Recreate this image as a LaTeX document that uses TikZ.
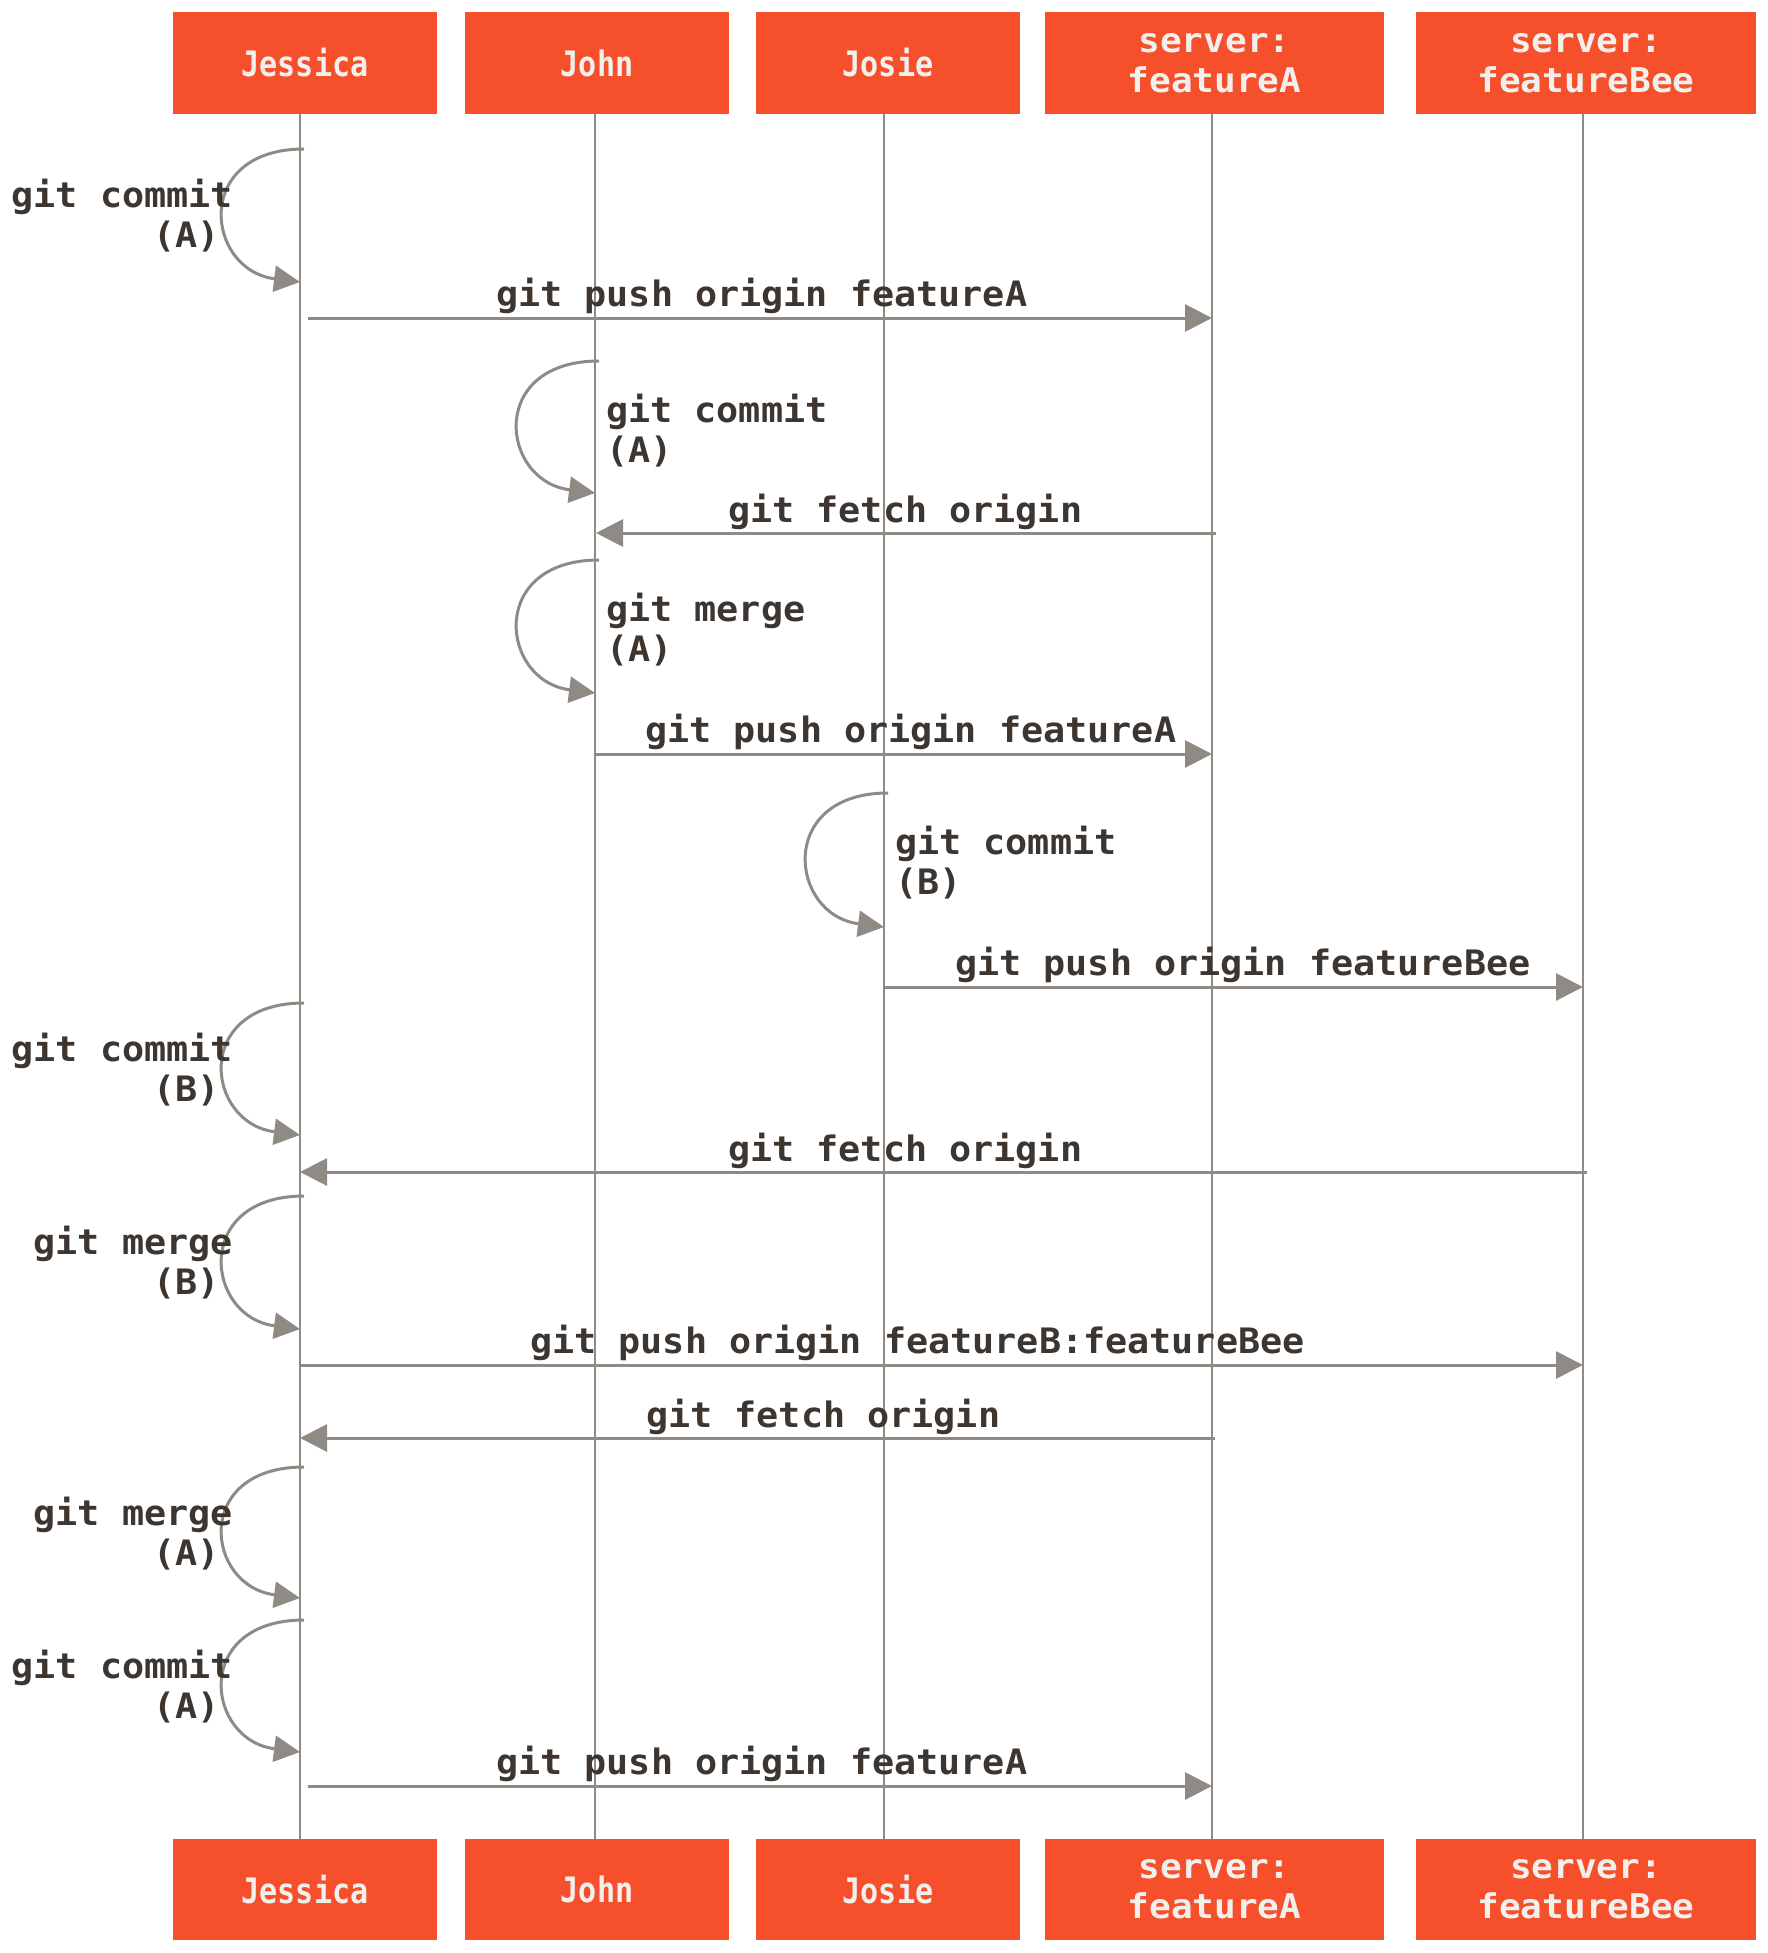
\documentclass[tikz,border=0pt]{standalone}
\usepackage{fontspec}
\usetikzlibrary{arrows.meta}
\newfontfamily\lblfont{DejaVu Sans Mono Bold}[FakeStretch=1.05]
\newfontfamily\srvfont{DejaVu Sans Mono Bold}[FakeStretch=1.06]
\newfontfamily\namefont{DejaVu Sans Mono Bold}[FakeStretch=0.86]
\definecolor{gitorange}{HTML}{F54F2B}
\definecolor{linegray}{HTML}{8F8A83}
\definecolor{txtdark}{HTML}{3D3530}
\definecolor{hdrtext}{HTML}{F2F0ED}
\begin{document}
\begin{tikzpicture}[x=1pt,y=-1pt,
  hdr/.style={fill=gitorange, draw=none, minimum height=101.5pt, inner sep=0pt, text=hdrtext, align=center},
  namebox/.style={hdr, minimum width=264pt, font=\namefont\fontsize{35}{40}\selectfont},
  srvbox/.style={hdr, minimum width=340pt, font=\srvfont\fontsize{34}{40}\selectfont},
  life/.style={draw=linegray, line width=2.5pt},
  msg/.style={draw=linegray, line width=3pt, -{Triangle[length=27pt,width=27pt]}},
  selfloop/.style={draw=linegray, line width=3pt, -{Triangle[length=26pt,width=26pt]}},
  lbl/.style={text=txtdark, inner sep=0pt, font=\lblfont\fontsize{35}{40}\selectfont},
  lblr/.style={lbl, anchor=base west},
  lbll/.style={lbl, anchor=base east}]
\useasboundingbox (0,0) rectangle (1768,1953);

% header boxes (top)
\node[namebox] (jT)  at (305,63) {Jessica};
\node[namebox] (jnT) at (597,63) {John};
\node[namebox] (jsT) at (888,63) {Josie};
\node[srvbox, minimum width=339pt] (faT) at (1214.5,63) {server:\\featureA};
\node[srvbox] (fbT) at (1586,63) {server:\\featureBee};
% header boxes (bottom)
\node[namebox] (jB)  at (305,1889.5) {Jessica};
\node[namebox] (jnB) at (597,1889.5) {John};
\node[namebox] (jsB) at (888,1889.5) {Josie};
\node[srvbox, minimum width=339pt] (faB) at (1214.5,1889.5) {server:\\featureA};
\node[srvbox] (fbB) at (1586,1889.5) {server:\\featureBee};

% lifelines
\coordinate (lJa) at (300,113.7);  \coordinate (lJb) at (300,1839);
\coordinate (lNa) at (595,113.7);  \coordinate (lNb) at (595,1839);
\coordinate (lSa) at (884,113.7);  \coordinate (lSb) at (884,1839);
\coordinate (lAa) at (1212,113.7); \coordinate (lAb) at (1212,1839);
\coordinate (lBa) at (1583,113.7); \coordinate (lBb) at (1583,1839);
\draw[life] (lJa) -- (lJb);
\draw[life] (lNa) -- (lNb);
\draw[life] (lSa) -- (lSb);
\draw[life] (lAa) -- (lAb);
\draw[life] (lBa) -- (lBb);

% 1 Jessica: git commit (A)
\coordinate (s1) at (304,149); \coordinate (e1) at (300,282);
\draw[selfloop] (s1) .. controls +(-112,0) and +(-95,-12) .. (e1);
\node[lbll] (t1a) at (233,208) {git commit};
\node[lbll] (t1b) at (220,248) {(A)};

% 2 push Jessica -> featureA
\coordinate (s2) at (308,318); \coordinate (e2) at (1212,318);
\draw[msg] (s2) -- (e2);
\node[lblr] (t2) at (496,306) {git push origin featureA};

% 3 John: git commit (A)
\coordinate (s3) at (599,361); \coordinate (e3) at (595,493);
\draw[selfloop] (s3) .. controls +(-112,0) and +(-95,-12) .. (e3);
\node[lblr] (t3a) at (606,422) {git commit};
\node[lblr] (t3b) at (606,462) {(A)};

% 4 fetch featureA -> John
\coordinate (s4) at (1216,533); \coordinate (e4) at (596,533);
\draw[msg] (s4) -- (e4);
\node[lblr] (t4) at (728,522) {git fetch origin};

% 5 John: git merge (A)
\coordinate (s5) at (599,560); \coordinate (e5) at (595,693);
\draw[selfloop] (s5) .. controls +(-112,0) and +(-95,-12) .. (e5);
\node[lblr] (t5a) at (606,621) {git merge};
\node[lblr] (t5b) at (606,661) {(A)};

% 6 push John -> featureA
\coordinate (s6) at (595,754); \coordinate (e6) at (1212,754);
\draw[msg] (s6) -- (e6);
\node[lblr] (t6) at (645,742) {git push origin featureA};

% 7 Josie: git commit (B)
\coordinate (s7) at (888,793); \coordinate (e7) at (884,927);
\draw[selfloop] (s7) .. controls +(-112,0) and +(-95,-12) .. (e7);
\node[lblr] (t7a) at (895,854) {git commit};
\node[lblr] (t7b) at (895,894) {(B)};

% 8 push Josie -> featureBee
\coordinate (s8) at (884,987); \coordinate (e8) at (1583,987);
\draw[msg] (s8) -- (e8);
\node[lblr] (t8) at (955,975) {git push origin featureBee};

% 9 Jessica: git commit (B)
\coordinate (s9) at (304,1003); \coordinate (e9) at (300,1135);
\draw[selfloop] (s9) .. controls +(-112,0) and +(-95,-12) .. (e9);
\node[lbll] (t9a) at (233,1061) {git commit};
\node[lbll] (t9b) at (220,1101) {(B)};

% 10 fetch featureBee -> Jessica
\coordinate (s10) at (1587,1172); \coordinate (e10) at (300,1172);
\draw[msg] (s10) -- (e10);
\node[lblr] (t10) at (728,1161) {git fetch origin};

% 11 Jessica: git merge (B)
\coordinate (s11) at (304,1196); \coordinate (e11) at (300,1329);
\draw[selfloop] (s11) .. controls +(-112,0) and +(-95,-12) .. (e11);
\node[lbll] (t11a) at (233,1254) {git merge};
\node[lbll] (t11b) at (220,1294) {(B)};

% 12 push Jessica -> featureBee
\coordinate (s12) at (300,1365); \coordinate (e12) at (1583,1365);
\draw[msg] (s12) -- (e12);
\node[lblr] (t12) at (530,1353) {git push origin featureB:featureBee};

% 13 fetch featureA -> Jessica
\coordinate (s13) at (1215,1438); \coordinate (e13) at (300,1438);
\draw[msg] (s13) -- (e13);
\node[lblr] (t13) at (646,1427) {git fetch origin};

% 14 Jessica: git merge (A)
\coordinate (s14) at (304,1467); \coordinate (e14) at (300,1598);
\draw[selfloop] (s14) .. controls +(-112,0) and +(-95,-12) .. (e14);
\node[lbll] (t14a) at (233,1525) {git merge};
\node[lbll] (t14b) at (220,1565) {(A)};

% 15 Jessica: git commit (A)
\coordinate (s15) at (304,1620); \coordinate (e15) at (300,1752);
\draw[selfloop] (s15) .. controls +(-112,0) and +(-95,-12) .. (e15);
\node[lbll] (t15a) at (233,1678) {git commit};
\node[lbll] (t15b) at (220,1718) {(A)};

% 16 push Jessica -> featureA
\coordinate (s16) at (308,1786); \coordinate (e16) at (1212,1786);
\draw[msg] (s16) -- (e16);
\node[lblr] (t16) at (496,1774) {git push origin featureA};
\end{tikzpicture}
\end{document}
